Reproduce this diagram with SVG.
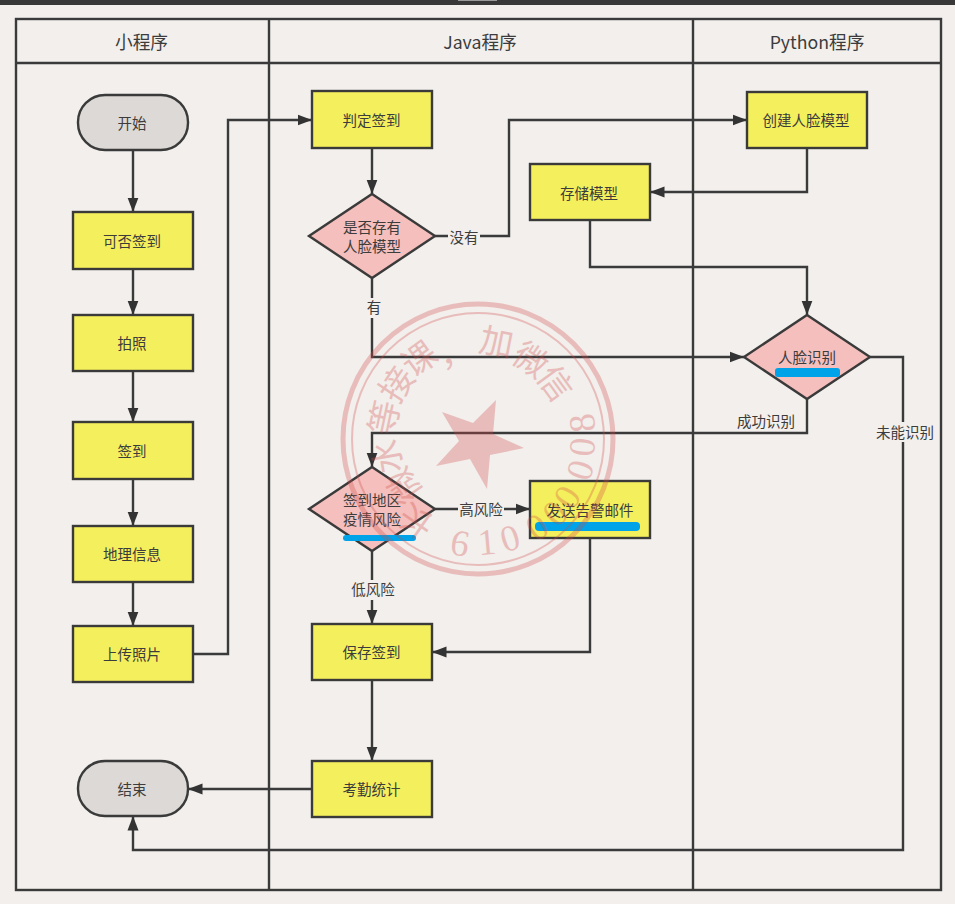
<svg xmlns="http://www.w3.org/2000/svg" width="955" height="904" viewBox="0 0 955 904">
<style>
text{font-family:"Noto Sans CJK SC","Noto Sans",sans-serif;font-size:14.5px;fill:#3c3c3c;text-anchor:middle}
.h{font-size:17.7px}
.lane{fill:none;stroke:#3a3a3a;stroke-width:2.4}
.lb{fill:#f2efec}
.box{fill:#f4ef5c;stroke:#3a3a3a;stroke-width:2.4}
.dia{fill:#f4bfbc;stroke:#3a3a3a;stroke-width:2.4}
.term{fill:#dcd9d6;stroke:#3a3a3a;stroke-width:2.4}
.hl{fill:#00a2e8}
.c{fill:none;stroke:#3a3a3a;stroke-width:2.4;marker-end:url(#a)}
.st text{font-family:"Liberation Serif","Noto Sans CJK SC",serif;font-size:37px;fill:#d24a48;dominant-baseline:central}
.st .z{font-family:"Noto Sans CJK SC",sans-serif;font-size:34px;font-weight:400}
</style>
<defs>
<marker id="a" markerUnits="userSpaceOnUse" markerWidth="15" markerHeight="12" refX="14.5" refY="6" orient="auto"><path d="M0,0.5 L14.5,6 L0,11.5 Z" fill="#333"/></marker>
</defs>
<rect width="955" height="904" fill="#f2efec"/>
<rect width="955" height="5" fill="#383838"/>
<rect x="458" width="39" height="1" fill="#9a9a9a"/>
<g id="lanes">
<rect class="lane" x="16" y="19" width="925" height="871"/>
<path class="lane" d="M16 63H941M269 19V890M693 19V890"/>
<text class="h" x="141.500" y="49">小程序</text>
<text class="h" x="480" y="49">Java程序</text>
<text class="h" x="817" y="49">Python程序</text>
</g>
<g id="connectors">
<path class="c" d="M133 150V212"/>
<path class="c" d="M133 269V315"/>
<path class="c" d="M133 371V422"/>
<path class="c" d="M133 479V526"/>
<path class="c" d="M133 582V626"/>
<path class="c" d="M193 654H228V120H312"/>
<path class="c" d="M372 148V194"/>
<path class="c" d="M435 236H509V120H747"/>
<path class="c" d="M807 148V192H650"/>
<path class="c" d="M590 220V267H807V315"/>
<path class="c" d="M372 278V357H744"/>
<path class="c" d="M807 399V433H372V467"/>
<path class="c" d="M870 357H903V850H133V816"/>
<path class="c" d="M435 509H530"/>
<path class="c" d="M372 551V624"/>
<path class="c" d="M590 538V652H432"/>
<path class="c" d="M372 680V761"/>
<path class="c" d="M312 789H188"/>
<rect class="lb" x="448" y="227" width="32" height="20"/>
<text x="464" y="243">没有</text>
<rect class="lb" x="365" y="298" width="18" height="20"/>
<text x="374" y="313">有</text>
<text x="766" y="427">成功识别</text>
<rect class="lb" x="876" y="422" width="58" height="20"/>
<text x="905" y="438">未能识别</text>
<rect class="lb" x="458" y="500" width="46" height="20"/>
<text x="481" y="515">高风险</text>
<rect class="lb" x="350" y="580" width="46" height="20"/>
<text x="373" y="595">低风险</text>
</g>
<g id="start"><rect class="term" x="78" y="95" width="110" height="55" rx="27" ry="27"/><text x="132" y="129">开始</text></g>
<g id="canSign"><rect class="box" x="73" y="212" width="120" height="57"/><text x="132" y="247">可否签到</text></g>
<g id="photo"><rect class="box" x="73" y="315" width="120" height="56"/><text x="132" y="349">拍照</text></g>
<g id="sign"><rect class="box" x="73" y="422" width="120" height="57"/><text x="132" y="457">签到</text></g>
<g id="geo"><rect class="box" x="73" y="526" width="120" height="56"/><text x="132" y="560">地理信息</text></g>
<g id="upload"><rect class="box" x="73" y="626" width="120" height="56"/><text x="132" y="660">上传照片</text></g>
<g id="end"><rect class="term" x="78" y="761" width="110" height="55" rx="27" ry="27"/><text x="132" y="795">结束</text></g>
<g id="judge"><rect class="box" x="312" y="91" width="120" height="57"/><text x="371.500" y="126">判定签到</text></g>
<g id="hasModel"><path class="dia" d="M372 194L435 236L372 278L309 236Z"/><text x="372" y="233">是否存有</text><text x="372" y="252">人脸模型</text></g>
<g id="store"><rect class="box" x="530" y="164" width="120" height="56"/><text x="589" y="199">存储模型</text></g>
<g id="create"><rect class="box" x="747" y="92" width="120" height="56"/><text x="806" y="126">创建人脸模型</text></g>
<g id="recog"><path class="dia" d="M807 315L870 357L807 399L744 357Z"/><text x="807" y="363">人脸识别</text><rect class="hl" x="775" y="368" width="65" height="9" rx="3"/></g>
<g id="risk"><path class="dia" d="M372 467L435 509L372 551L309 509Z"/><text x="372" y="506">签到地区</text><text x="372" y="525">疫情风险</text><rect class="hl" x="343" y="535" width="73" height="6" rx="3"/></g>
<g id="mail"><rect class="box" x="530" y="481" width="120" height="57"/><text x="590" y="516">发送告警邮件</text><rect class="hl" x="535" y="522" width="105" height="9" rx="4"/></g>
<g id="save"><rect class="box" x="312" y="624" width="120" height="56"/><text x="371.500" y="658">保存签到</text></g>
<g id="stats"><rect class="box" x="312" y="761" width="120" height="56"/><text x="371.500" y="795">考勤统计</text></g>
<g id="stamp" class="st" opacity="0.3">
<circle cx="478" cy="439" r="135" fill="none" stroke="#d24a48" stroke-width="5"/>
<circle cx="478" cy="439" r="126" fill="none" stroke="#d24a48" stroke-width="2"/>
<path fill="#d24a48" d="M496 400L493 434L524 448L490 455L487 489L470 459L436 466L459 441L442 412L473 423Z"/>
<text class="z" transform="translate(385 457) rotate(-100)">水</text>
<text class="z" transform="translate(402 487) rotate(-125)">微</text>
<text class="z" transform="translate(415 523) rotate(-145)">长</text>
<text class="z" transform="translate(382 417) rotate(-78)">等</text>
<text class="z" transform="translate(395 383) rotate(-56)">接</text>
<text class="z" transform="translate(418 357) rotate(-36)">课</text>
<text class="z" transform="translate(455 350) rotate(-14)">，</text>
<text class="z" transform="translate(497 340) rotate(11)">加</text>
<text class="z" transform="translate(532 358) rotate(34)">微</text>
<text class="z" transform="translate(557 382) rotate(54)">信</text>
<text transform="translate(460 543) rotate(10)">6</text>
<text transform="translate(487 542) rotate(-5)">1</text>
<text transform="translate(510 538) rotate(-17)">0</text>
<text transform="translate(537 527) rotate(-33)">0</text>
<text transform="translate(555 513) rotate(-45)">0</text>
<text transform="translate(567 497) rotate(-57)">0</text>
<text transform="translate(580 470) rotate(-73)">0</text>
<text transform="translate(582 447) rotate(-85)">0</text>
<text transform="translate(582 423) rotate(-98)">8</text>
</g>
</svg>
